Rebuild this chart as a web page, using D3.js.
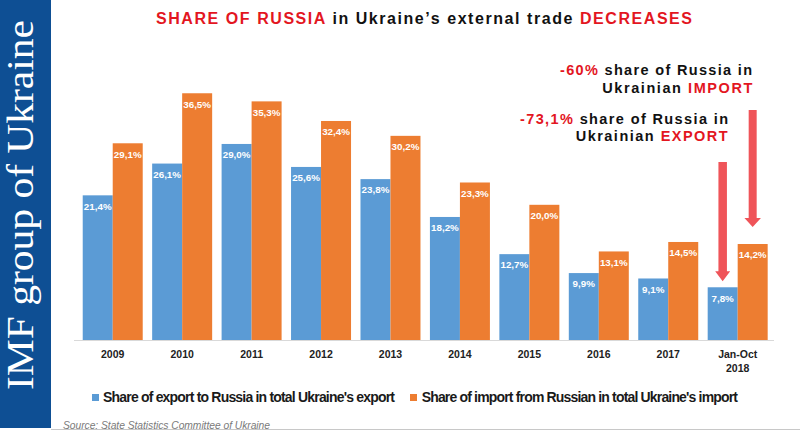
<!DOCTYPE html>
<html><head><meta charset="utf-8">
<script src="https://cdn.jsdelivr.net/npm/d3@7"></script>
<style>body{margin:0;background:#fff}svg{display:block}</style>
</head><body>
<svg id="c" width="800" height="432"></svg>
<script>
const categories = ["2009","2010","2011","2012","2013","2014","2015","2016","2017","Jan-Oct 2018"];
const exportShare = [21.4,26.1,29.0,25.6,23.8,18.2,12.7,9.9,9.1,7.8];
const importShare = [29.1,36.5,35.3,32.4,30.2,23.3,20.0,13.1,14.5,14.2];
const seriesNames = ["Share of export to Russia in total Ukraine's export","Share of import from Russian in total Ukraine's import"];
const valueLabels = v => d3.format(".1f")(v).replace(".", ",") + "%";

const BLUE = "#5b9bd5", ORANGE = "#ed7d31", RED = "#e3161f", ARROW = "#ef5459";
const svg = d3.select("#c");
const F = "'Liberation Sans', Arial, sans-serif";

function fit(sel, w) {
  const n = sel.text().length;
  const cur = sel.node().getComputedTextLength();
  sel.attr("letter-spacing", ((w - cur) / Math.max(1, n - 1)).toFixed(3));
}

// left band
svg.append("rect").attr("x",0).attr("y",0).attr("width",51).attr("height",428).attr("fill","#0e4f94");
const band = svg.append("text").attr("transform","translate(33,390) rotate(-90)")
  .attr("font-family","'Liberation Serif', 'Times New Roman', serif").attr("font-size",37)
  .attr("fill","#fff").text("IMF group of Ukraine");
band.attr("textLength",370).attr("lengthAdjust","spacingAndGlyphs");

// bottom rule
svg.append("line").attr("x1",51).attr("x2",800).attr("y1",429.5).attr("y2",429.5).attr("stroke","#c8c8c8");

// scales
const x = d3.scaleBand().domain(categories).range([78, 772.4]).paddingInner(0.136).paddingOuter(0.068);
const sub = d3.scaleBand().domain(["export","import"]).range([0, x.bandwidth()]);
const y = d3.scaleLinear().domain([0, 40]).range([340, 340 - 270.4]);

// axis line
svg.append("line").attr("x1",74).attr("x2",774).attr("y1",340.5).attr("y2",340.5).attr("stroke","#d9d9d9");

const rows = categories.map((c,i)=>({c, v:[["export",exportShare[i]],["import",importShare[i]]]}));
const g = svg.append("g").selectAll("g").data(rows).join("g").attr("transform",d=>`translate(${x(d.c)},0)`);
g.selectAll("rect").data(d=>d.v).join("rect")
  .attr("x",d=>sub(d[0])).attr("y",d=>y(d[1])).attr("width",sub.bandwidth()).attr("height",d=>y(0)-y(d[1]))
  .attr("fill",d=>d[0]==="export"?BLUE:ORANGE);
g.selectAll("text.v").data(d=>d.v).join("text").attr("class","v")
  .attr("x",d=>sub(d[0])+sub.bandwidth()/2).attr("y",d=>y(d[1])+14.3)
  .attr("text-anchor","middle").attr("font-family",F).attr("font-weight","bold").attr("font-size",9.8)
  .attr("fill","#fff").text(d=>valueLabels(d[1]));

// x labels
const xa = svg.append("g").selectAll("text").data(categories).join("text")
  .attr("x",d=>x(d)+x.bandwidth()/2).attr("y",358.3).attr("text-anchor","middle")
  .attr("font-family",F).attr("font-weight","bold").attr("font-size",10.5).attr("fill","#222");
xa.each(function(d){
  const parts = d.split(" ");
  const t = d3.select(this);
  parts.forEach((p,i)=>t.append("tspan").attr("x",x(d)+x.bandwidth()/2).attr("dy",i?13.4:0).text(p));
});

// title
const title = svg.append("text").attr("x",156).attr("y",23.5).attr("font-family",F).attr("font-weight","bold").attr("font-size",16);
title.append("tspan").attr("fill",RED).text("SHARE OF RUSSIA");
title.append("tspan").attr("fill","#111").text(" in Ukraine’s external trade ");
title.append("tspan").attr("fill",RED).text("DECREASES");
fit(title, 536);

// annotations
function ann(lines, left, base, width) {
  const t = svg.append("text").attr("x",left).attr("y",base).attr("font-family",F).attr("font-weight","bold").attr("font-size",14.5);
  lines.forEach(([s,col])=>t.append("tspan").attr("fill",col).text(s));
  fit(t, width);
}
ann([["-60%",RED],[" share of Russia in","#111"]], 560, 75, 192);
ann([["Ukrainian ","#111"],["IMPORT",RED]], 602.3, 92.7, 150);
ann([["-73,1%",RED],[" share of Russia in","#111"]], 520, 123.5, 208);
ann([["Ukrainian ","#111"],["EXPORT",RED]], 575.7, 141, 152);

// arrows
const last = categories[categories.length-1];
function arrow(key, val, top, gap, shaftW, headW, headH) {
  const cx = x(last) + sub(key) + sub.bandwidth()/2;
  const tip = y(val) - gap;
  const p = d3.path();
  p.moveTo(cx - shaftW/2, top); p.lineTo(cx + shaftW/2, top); p.lineTo(cx + shaftW/2, tip - headH);
  p.lineTo(cx + headW/2, tip - headH); p.lineTo(cx, tip); p.lineTo(cx - headW/2, tip - headH);
  p.lineTo(cx - shaftW/2, tip - headH); p.closePath();
  svg.append("path").attr("d", p.toString()).attr("fill", ARROW);
}
arrow("export", exportShare[exportShare.length-1], 162, 6, 8.5, 15, 10);
arrow("import", importShare[importShare.length-1], 110, 17, 8, 16.5, 9);

// legend
const leg = [[seriesNames[0], BLUE, 92, 103, 292],[seriesNames[1], ORANGE, 410, 421.7, 316.3]];
leg.forEach(([s,col,sx,tx,w])=>{
  svg.append("rect").attr("x",sx).attr("y",394).attr("width",7).attr("height",7).attr("fill",col);
  const t = svg.append("text").attr("x",tx).attr("y",401.7).attr("font-family",F).attr("font-weight","bold")
    .attr("font-size",14).attr("fill","#1a1a1a").text(s);
  fit(t, w);
});

// source
const src = svg.append("text").attr("x",63).attr("y",429).attr("font-family",F).attr("font-style","italic")
  .attr("font-size",10.3).attr("fill","#7a7a7a").text("Source: State Statistics Committee of Ukraine");
fit(src, 207);
</script>
</body></html>
